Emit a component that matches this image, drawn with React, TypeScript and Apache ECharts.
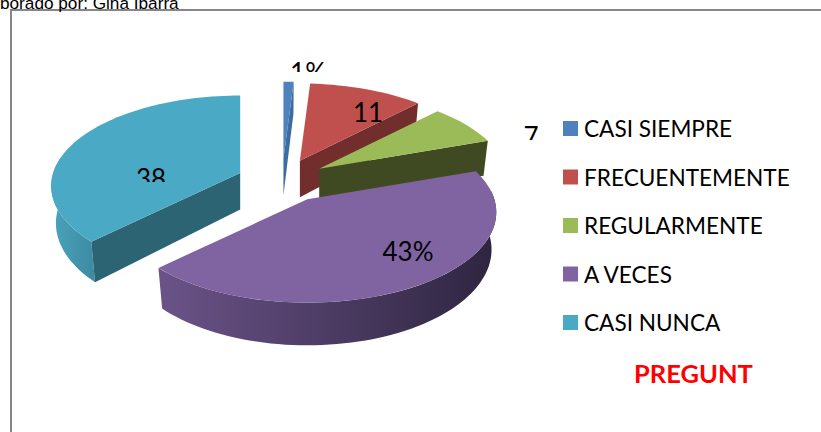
import React, { useEffect, useRef } from "react";
import * as echarts from "echarts";

const categories = ["CASI SIEMPRE", "FRECUENTEMENTE", "REGULARMENTE", "A VECES", "CASI NUNCA"];
const values = [1, 11, 7, 43, 38];
const dataLabels = ["1%", "11", "7", "43%", "38"];
const topColors = ["#4F81BD", "#C0504D", "#9BBB59", "#8064A2", "#4AA9C4"];
const faceColors = ["#3D6CA3", "#722E2C", "#3F4A22", "#4B3B60", "#2D6474"];
const sideFrom = ["#3D6CA3", "#722E2C", "#3F4A22", "#6B5388", "#4BA3BC"];
const sideTo = ["#3D6CA3", "#722E2C", "#3F4A22", "#2E2540", "#3C8AA2"];
const footerTitle = "PREGUNT";
const headerText = "borado por: Gina Ibarra";

// projection of the pie (3D perspective look)
const CX = 282, CY = 181, RX = 187, RY = 88.5, PERSP = 0.1445, EXPLODE_X = 45, EXPLODE_Y = 22, DEPTH = 36.5, BOTTOM_SCALE = 0.975;
// label placement: centre and clip window [y0, y1]
const labelLayout = [
  { x: 308, y: 71.5, y0: 50, y1: 72 },
  { x: 368, y: 112, y0: 90, y1: 140 },
  { x: 531, y: 136.4, y0: 120, y1: 140 },
  { x: 408, y: 250.5, y0: 230, y1: 275 },
  { x: 151, y: 178, y0: 160, y1: 182 },
];

const total = values.reduce((a, b) => a + b, 0);
const rad = (d: number) => (d * Math.PI) / 180;

function project(a: number) {
  // angles drift slightly towards the viewer because of the 3D camera
  const t = a + rad(2.5) * Math.min(1, (1 + Math.sin(a)) * 1.5);
  const v = Math.sin(t);
  const f = 1 / (1 - PERSP * v);
  return { X: RX * Math.cos(t) * f, Y: RY * v * f, f };
}

function arcPoints(t0: number, t1: number, step = 2) {
  const n = Math.max(2, Math.ceil(Math.abs(t1 - t0) / rad(step)));
  const out: number[] = [];
  for (let i = 0; i <= n; i++) out.push(t0 + ((t1 - t0) * i) / n);
  return out;
}

function makeRenderItem(index: number) {
  return () => {
    const before = values.slice(0, index).reduce((a, b) => a + b, 0);
    const t0 = rad(-90 + (before / total) * 360);
    const t1 = rad(-90 + ((before + values[index]) / total) * 360);
    const mid = (t0 + t1) / 2;
    const ax = CX + EXPLODE_X * Math.cos(mid);
    const ay = CY + EXPLODE_Y * Math.sin(mid);
    const top = (t: number) => {
      const p = project(t);
      return [ax + p.X, ay + p.Y];
    };
    const bottom = (t: number) => {
      const p = project(t);
      return [ax + p.X * BOTTOM_SCALE, ay + p.Y + DEPTH * p.f];
    };
    const children: any[] = [];

    // outer wall, near side only
    const s0 = Math.max(t0, rad(-8));
    const s1 = Math.min(t1, rad(188));
    if (s1 > s0) {
      const ts = arcPoints(s0, s1);
      children.push({
        type: "polygon",
        shape: { points: [...ts.map(top), ...ts.slice().reverse().map(bottom)] },
        style: {
          fill: new echarts.graphic.LinearGradient(0, 0, 1, 0, [
            { offset: 0, color: sideFrom[index] },
            { offset: 1, color: sideTo[index] },
          ]),
        },
      });
    }

    // cut faces
    const face = (t: number) => ({
      type: "polygon",
      shape: { points: [[ax, ay], top(t), bottom(t), [ax, ay + DEPTH]] },
      style: { fill: faceColors[index] },
    });
    if (Math.cos(t0) < -0.01) children.push(face(t0));
    if (Math.cos(t1) > 0.01) children.push(face(t1));

    // top surface
    children.push({
      type: "polygon",
      shape: { points: [[ax, ay], ...arcPoints(t0, t1).map(top)] },
      style: { fill: topColors[index] },
    });

    // label, cut off as in the reference
    const l = labelLayout[index];
    children.push({
      type: "group",
      clipPath: { type: "rect", shape: { x: l.x - 60, y: l.y0, width: 120, height: l.y1 - l.y0 } },
      children: [
        {
          type: "text",
          x: l.x,
          y: l.y,
          style: {
            text: dataLabels[index],
            fill: "#000000",
            font: '26px "Lato", sans-serif',
            textAlign: "center",
            textVerticalAlign: "middle",
          },
        },
      ],
    });
    return { type: "group", children };
  };
}

export default function App() {
  const ref = useRef<HTMLDivElement>(null);
  useEffect(() => {
    const chart = echarts.init(ref.current!, null, { renderer: "svg" });
    chart.setOption({
      animation: false,
      backgroundColor: "#ffffff",
      title: {
        text: footerTitle,
        left: 634,
        top: 360,
        padding: 0,
        textStyle: { color: "#FF0000", fontFamily: "Lato", fontWeight: "bold", fontSize: 25.5 },
      },
      legend: {
        orient: "vertical",
        left: 563,
        top: 117,
        padding: 0,
        itemWidth: 15,
        itemHeight: 15,
        itemGap: 25.5,
        icon: "rect",
        data: categories,
        textStyle: { color: "#000000", fontFamily: "Lato", fontSize: 22.6, padding: [0, 0, 0, 1] },
        selectedMode: false,
      },
      graphic: [
        {
          type: "polyline",
          shape: { points: [[11, 432], [11, 10], [821, 10]] },
          style: { stroke: "#868686", lineWidth: 2, fill: "none" },
          silent: true,
        },
        {
          type: "text",
          x: 0,
          y: 11,
          style: { text: headerText, fill: "#000000", font: '17.2px "Liberation Sans", Arial', textVerticalAlign: "bottom" },
          silent: true,
        },
      ],
      series: categories.map((name, i) => ({
        type: "custom",
        name,
        coordinateSystem: "none",
        itemStyle: { color: topColors[i] },
        data: [values[i]],
        renderItem: makeRenderItem(i),
        silent: true,
      })),
    });
    return () => chart.dispose();
  }, []);
  return <div ref={ref} style={{ position: "fixed", left: 0, top: 0, width: 821, height: 432 }} />;
}
